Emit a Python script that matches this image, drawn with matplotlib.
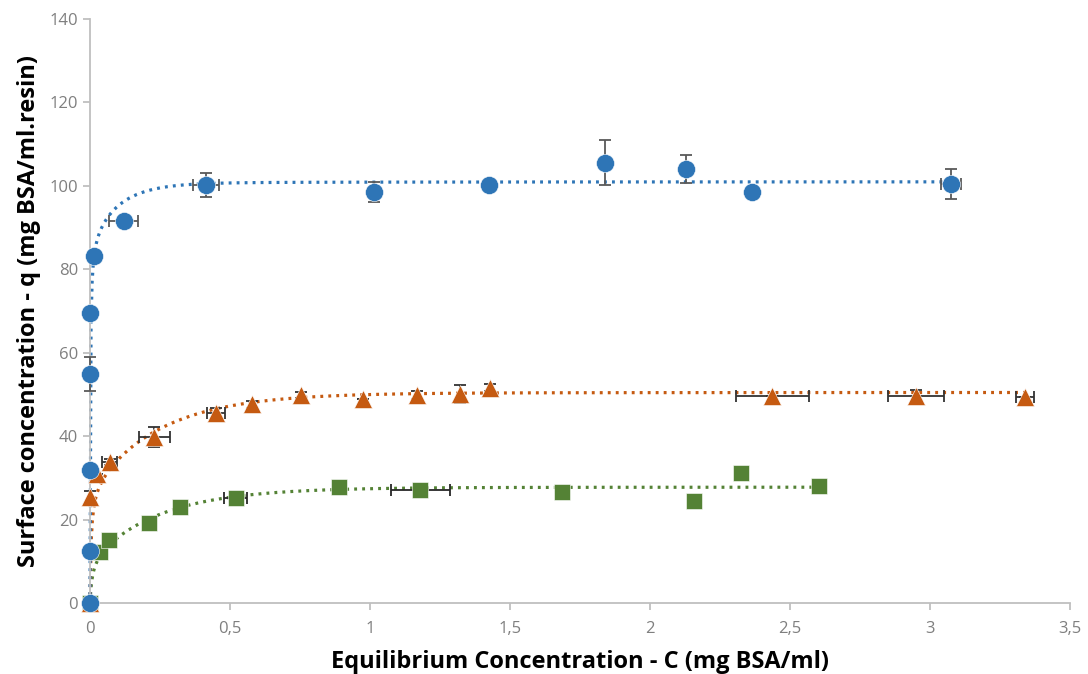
import numpy as np
import matplotlib
matplotlib.use("Agg")
import matplotlib.pyplot as plt
from matplotlib.ticker import FixedLocator, FuncFormatter

plt.rcParams.update({'font.family': "Open Sans",
                     'font.size': 12})

# Data
blue_c = [0.0, 0.0, 0.0, 0.0, 0.0, 0.014, 0.12, 0.414, 1.014, 1.425, 1.84, 2.13, 2.364, 3.075]
blue_q = [0.0, 12.5, 31.9, 54.9, 69.5, 83.2, 91.6, 100.2, 98.5, 100.3, 105.6, 104.1, 98.6, 100.4]
blue_xerr = [0, 0, 0, 0, 0, 0, 0.052, 0.046, 0, 0, 0, 0, 0, 0.035]
blue_yerr = [0, 0, 0, 4.0, 0, 0, 0, 2.9, 2.4, 0, 5.5, 3.4, 0, 3.6]

orange_c = [0.0, 0.0, 0.025, 0.07, 0.23, 0.45, 0.58, 0.754, 0.975, 1.168, 1.32, 1.43, 2.436, 2.95, 3.34]
orange_q = [0.0, 25.4, 31.0, 33.8, 39.8, 45.6, 47.6, 49.9, 48.8, 49.9, 50.1, 51.6, 49.6, 49.6, 49.3]
orange_xerr = [0, 0, 0, 0.027, 0.054, 0.032, 0, 0, 0, 0, 0, 0, 0.13, 0.10, 0.032]
orange_yerr = [0, 1.5, 0, 0.8, 2.3, 1.2, 0.8, 0.8, 0, 1.0, 2.2, 0.8, 0, 1.5, 0]

green_c = [0.0, 0.036, 0.068, 0.21, 0.32, 0.52, 0.89, 1.18, 1.686, 2.157, 2.325, 2.604]
green_q = [0.0, 12.2, 15.1, 19.2, 23.0, 25.2, 27.8, 27.1, 26.6, 24.5, 31.2, 28.0]
green_xerr = [0, 0, 0, 0, 0, 0.04, 0, 0.105, 0, 0, 0, 0]
green_yerr = [0, 0, 0, 0, 0, 0, 0, 0.8, 0.8, 0, 0, 0]

# Model trendlines: fast site (q1, k1) + slow site (q2, k2), drawn up to C_end
blue_fit = (88.0, 0.0012, 13.0, 0.10, 3.08)
orange_fit = (28.0, 0.004, 22.5, 0.25, 3.35)
green_fit = (11.0, 0.008, 16.8, 0.25, 2.61)

x_ticks = [0, 0.5, 1, 1.5, 2, 2.5, 3, 3.5]
y_ticks = [0, 20, 40, 60, 80, 100, 120, 140]

colors = {"blue": "#2E75B6", "orange": "#C55A11", "green": "#548235"}


def model_curve(fit):
    q1, k1, q2, k2, c_end = fit
    c = np.linspace(0, c_end, 800)
    return c, q1 * c / (k1 + c) + q2 * (1 - np.exp(-c / k2))


def draw_series(ax, c, q, xerr, yerr, marker, color, ecolor, size, z):
    # error bars first, markers on top
    ax.errorbar(c, q, xerr=xerr, yerr=yerr, fmt="none", ecolor=ecolor,
                elinewidth=1.3, capsize=4.5, capthick=1.3, zorder=z, clip_on=False)
    ax.plot(c, q, linestyle="none", marker=marker, color=color, markersize=size,
            markeredgecolor="white", markeredgewidth=0.4, zorder=z + 0.5, clip_on=False)


fig = plt.figure(figsize=(10.88, 6.74), dpi=100)
ax = fig.add_axes([0.0827, 0.1053, 0.9008, 0.8665])

dots = (0, (0.9, 1.6))
for fit, col in [(green_fit, colors["green"]), (orange_fit, colors["orange"]), (blue_fit, colors["blue"])]:
    c, q = model_curve(fit)
    ax.plot(c, q, linestyle=dots, color=col, linewidth=2.3, zorder=2, clip_on=False)

draw_series(ax, green_c, green_q, green_xerr, green_yerr, "s", colors["green"], "#262626", 11.5, 3)
draw_series(ax, orange_c, orange_q, orange_xerr, orange_yerr, "^", colors["orange"], "#333333", 13, 4)
draw_series(ax, blue_c, blue_q, blue_xerr, blue_yerr, "o", colors["blue"], "#595959", 13, 5)

ax.set_xlim(0, 3.5)
ax.set_ylim(0, 140)
ax.xaxis.set_major_locator(FixedLocator(x_ticks))
ax.yaxis.set_major_locator(FixedLocator(y_ticks))
ax.xaxis.set_major_formatter(FuncFormatter(lambda v, p: f"{v:g}".replace(".", ",")))

for side in ["top", "right"]:
    ax.spines[side].set_visible(False)
for side in ["left", "bottom"]:
    ax.spines[side].set_color("#bfbfbf")
    ax.spines[side].set_linewidth(1.3)
ax.tick_params(axis="both", colors="#bfbfbf", labelcolor="#7f7f7f", labelsize=12,
               length=5, width=1.3, direction="out")
ax.tick_params(axis="x", pad=8)

ax.set_xlabel("Equilibrium Concentration - C (mg BSA/ml)", fontsize=17, fontweight="bold", labelpad=9)
ax.set_ylabel("Surface concentration - q (mg BSA/ml.resin)", fontsize=17, fontweight="bold", labelpad=6)

fig.savefig("out.png", dpi=100)
